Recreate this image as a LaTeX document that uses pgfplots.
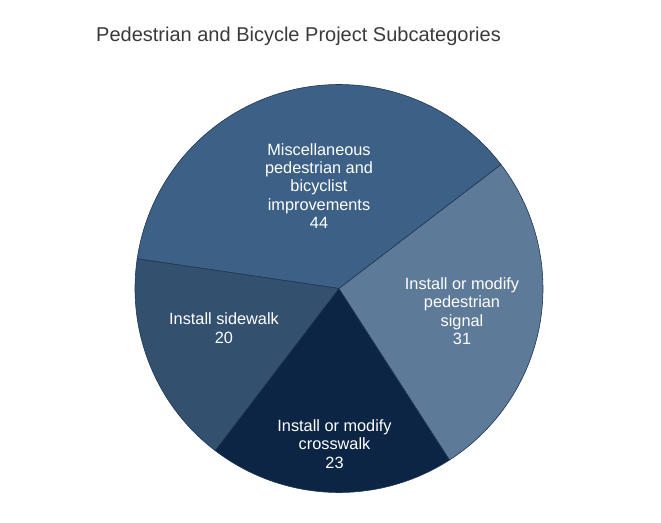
\documentclass[border=0pt]{standalone}
\usepackage{pgfplots}
\pgfplotsset{compat=1.18}
\usepackage{fontspec}
\setmainfont{Liberation Sans}
\definecolor{cMisc}{HTML}{3D6186}
\definecolor{cSide}{HTML}{34506F}
\definecolor{cCross}{HTML}{0C2545}
\definecolor{cSig}{HTML}{5E7A99}
\definecolor{cEdge}{HTML}{1E3655}
\definecolor{cTitle}{HTML}{3A3A3A}
\begin{document}
\begin{tikzpicture}
% data: Misc 44, Sidewalk 20, Crosswalk 23, Signal 31
\pgfmathsetmacro{\vA}{44}
\pgfmathsetmacro{\vB}{20}
\pgfmathsetmacro{\vC}{23}
\pgfmathsetmacro{\vD}{31}
\pgfmathsetmacro{\tot}{\vA+\vB+\vC+\vD}
\pgfmathsetmacro{\aA}{37.4}
\pgfmathsetmacro{\aB}{\aA+360*\vA/\tot}
\pgfmathsetmacro{\aC}{\aB+360*\vB/\tot}
\pgfmathsetmacro{\aD}{\aC+360*\vC/\tot}
\pgfmathsetmacro{\aE}{\aD+360*\vD/\tot}
\begin{axis}[
  width=661pt, height=522pt, scale only axis,
  xmin=0, xmax=661, ymin=0, ymax=522,
  hide axis, clip=false,
]
\path (axis cs:0,0) rectangle (axis cs:661,522);
\addplot[fill=cMisc, draw=cEdge, line width=0.6pt, domain=\aA:\aB, samples=80, variable=\t]
  ({339+204*cos(\t)}, {233.5+204*sin(\t)}) -- (axis cs:339,233.5) -- cycle;
\addplot[fill=cSide, draw=cEdge, line width=0.6pt, domain=\aB:\aC, samples=60, variable=\t]
  ({339+204*cos(\t)}, {233.5+204*sin(\t)}) -- (axis cs:339,233.5) -- cycle;
\addplot[fill=cCross, draw=cEdge, line width=0.6pt, domain=\aC:\aD, samples=60, variable=\t]
  ({339+204*cos(\t)}, {233.5+204*sin(\t)}) -- (axis cs:339,233.5) -- cycle;
\addplot[fill=cSig, draw=cEdge, line width=0.6pt, domain=\aD:\aE, samples=60, variable=\t]
  ({339+204*cos(\t)}, {233.5+204*sin(\t)}) -- (axis cs:339,233.5) -- cycle;
\node[anchor=base west, text=cTitle, font=\fontsize{20}{23}\selectfont, inner sep=0pt]
  at (axis cs:96,480) {Pedestrian and Bicycle Project Subcategories};
\tikzset{lbl/.style={align=center, text=white, font=\fontsize{16.3}{18.4}\selectfont, inner sep=0pt}}
\node[lbl] at (axis cs:319,336) {Miscellaneous\\pedestrian and\\bicyclist\\improvements\\44};
\node[lbl] at (axis cs:224,194) {Install sidewalk\\20};
\node[lbl] at (axis cs:334.5,78) {Install or modify\\crosswalk\\23};
\node[lbl] at (axis cs:462,211) {Install or modify\\pedestrian\\signal\\31};
\end{axis}
\end{tikzpicture}
\end{document}
